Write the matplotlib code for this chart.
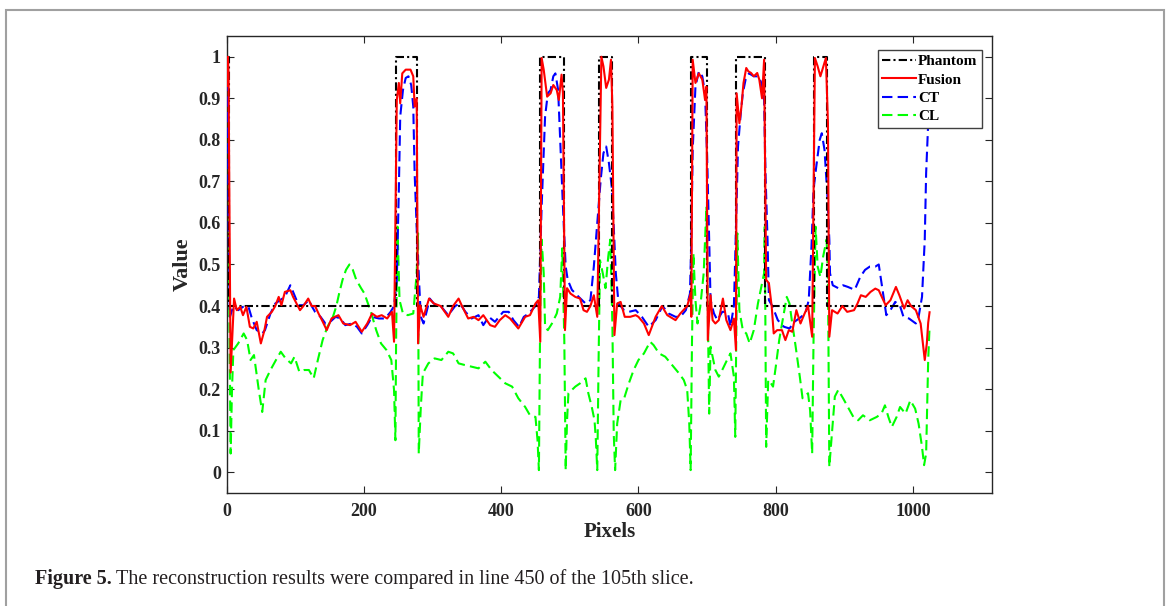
import matplotlib
matplotlib.use('Agg')
import matplotlib.pyplot as plt
from matplotlib.patches import Rectangle

# Line 450 of slice 105
phantom_x = [1, 3, 3, 247, 247, 277, 277, 457, 457, 491, 491, 542, 542, 561, 561,
             677, 677, 700, 700, 742, 742, 784, 784, 855, 855, 875, 875, 1024]
phantom_y = [1, 1, 0.4, 0.4, 1, 1, 0.4, 0.4, 1, 1, 0.4, 0.4, 1, 1, 0.4,
             0.4, 1, 1, 0.4, 0.4, 1, 1, 0.4, 0.4, 1, 1, 0.4, 0.4]

fusion_x = [1, 2, 3, 4, 6, 11, 15, 20, 24, 29, 34, 39, 44, 50, 55, 59, 66, 71, 76, 80,
            85, 93, 97, 107, 112, 119, 124, 129, 134, 139, 146, 153, 163, 170, 180, 188,
            197, 205, 212, 219, 226, 234, 241, 244, 248, 251, 253, 256, 261, 268, 272,
            274, 277, 279, 282, 287, 295, 302, 312, 323, 330, 338, 343, 352, 360, 367,
            374, 384, 391, 398, 406, 413, 425, 435, 442, 450, 454, 457, 459, 462, 467,
            472, 476, 481, 484, 488, 490, 493, 496, 501, 508, 515, 520, 525, 530, 535,
            540, 546, 549, 553, 557, 560, 562, 565, 569, 574, 580, 588, 596, 600, 608,
            615, 625, 634, 642, 654, 661, 671, 676, 677, 679, 683, 688, 693, 697, 699,
            701, 705, 708, 712, 717, 723, 728, 734, 739, 742, 743, 747, 750, 753, 757,
            760, 764, 768, 773, 776, 780, 783, 786, 790, 794, 797, 802, 809, 814, 819,
            824, 830, 836, 842, 847, 853, 857, 861, 865, 870, 873, 876, 878, 882, 890,
            897, 904, 914, 919, 924, 931, 938, 945, 950, 960, 967, 975, 980, 987, 992,
            997, 1004, 1011, 1017, 1020, 1022, 1024]
fusion_y = [0.93, 1.0, 0.96, 0.7, 0.24, 0.418, 0.39, 0.398, 0.378, 0.398, 0.35, 0.346,
            0.362, 0.31, 0.34, 0.374, 0.386, 0.4, 0.422, 0.402, 0.434, 0.438, 0.422, 0.39,
            0.4, 0.418, 0.4, 0.4, 0.382, 0.366, 0.342, 0.37, 0.378, 0.358, 0.354, 0.362,
            0.338, 0.358, 0.382, 0.374, 0.378, 0.37, 0.386, 0.314, 0.896, 0.937, 0.888,
            0.96, 0.969, 0.969, 0.953, 0.88, 0.9, 0.31, 0.402, 0.374, 0.418, 0.406, 0.4,
            0.374, 0.4, 0.418, 0.4, 0.37, 0.374, 0.366, 0.378, 0.354, 0.35, 0.366, 0.378,
            0.37, 0.346, 0.374, 0.378, 0.406, 0.414, 0.314, 0.997, 0.969, 0.904, 0.912,
            0.932, 0.92, 0.896, 0.957, 0.912, 0.342, 0.443, 0.43, 0.422, 0.418, 0.39,
            0.386, 0.4, 0.426, 0.374, 1.0, 0.977, 0.925, 0.945, 0.993, 0.88, 0.33, 0.406,
            0.41, 0.374, 0.374, 0.378, 0.374, 0.358, 0.33, 0.374, 0.4, 0.378, 0.366,
            0.382, 0.4, 0.43, 0.374, 0.993, 0.937, 0.96, 0.945, 0.896, 0.928, 0.318,
            0.426, 0.366, 0.358, 0.366, 0.418, 0.366, 0.342, 0.37, 0.294, 0.912, 0.84,
            0.88, 0.937, 0.973, 0.965, 0.961, 0.953, 0.961, 0.945, 0.9, 0.993, 0.463,
            0.455, 0.4, 0.334, 0.342, 0.342, 0.318, 0.342, 0.338, 0.39, 0.358, 0.382,
            0.4, 0.326, 0.997, 0.977, 0.953, 0.98, 0.997, 0.84, 0.326, 0.39, 0.382, 0.4,
            0.386, 0.39, 0.406, 0.426, 0.422, 0.434, 0.442, 0.438, 0.402, 0.414, 0.446,
            0.426, 0.394, 0.414, 0.4, 0.39, 0.358, 0.27, 0.31, 0.36, 0.385]

ct_x = [1, 2, 3, 5, 10, 17, 24, 32, 37, 44, 52, 56, 64, 71, 78, 85, 93, 98, 105, 112,
        120, 124, 129, 137, 144, 151, 159, 166, 173, 183, 190, 197, 205, 212, 222, 231,
        239, 244, 248, 251, 253, 257, 261, 265, 269, 272, 274, 278, 283, 287, 292, 296,
        302, 312, 323, 333, 340, 348, 357, 367, 374, 382, 391, 403, 411, 418, 426, 433,
        440, 450, 455, 459, 464, 468, 472, 476, 479, 483, 486, 490, 494, 497, 503, 513,
        523, 530, 535, 540, 545, 549, 553, 557, 561, 564, 567, 571, 579, 586, 596, 605,
        615, 625, 635, 644, 654, 661, 669, 675, 677, 679, 683, 688, 693, 697, 700, 703,
        705, 710, 715, 722, 730, 734, 739, 741, 745, 749, 752, 756, 761, 768, 775, 779,
        783, 785, 788, 790, 795, 803, 812, 820, 827, 834, 843, 848, 852, 855, 859, 864,
        867, 871, 875, 878, 879, 883, 891, 898, 905, 915, 923, 930, 937, 945, 950, 954,
        961, 967, 974, 981, 986, 994, 1004, 1008, 1013, 1017, 1019, 1022, 1024]
ct_y = [0.98, 0.9, 0.6, 0.374, 0.4, 0.39, 0.398, 0.398, 0.37, 0.342, 0.334, 0.342,
        0.382, 0.406, 0.414, 0.422, 0.45, 0.43, 0.402, 0.402, 0.414, 0.4, 0.386, 0.374,
        0.358, 0.362, 0.374, 0.37, 0.354, 0.358, 0.35, 0.334, 0.354, 0.374, 0.37, 0.37,
        0.386, 0.4, 0.463, 0.68, 0.856, 0.92, 0.949, 0.953, 0.932, 0.88, 0.72, 0.543,
        0.374, 0.358, 0.39, 0.418, 0.406, 0.4, 0.378, 0.4, 0.406, 0.386, 0.37, 0.378,
        0.354, 0.374, 0.362, 0.386, 0.386, 0.366, 0.35, 0.374, 0.382, 0.4, 0.422, 0.64,
        0.856, 0.912, 0.92, 0.953, 0.96, 0.92, 0.8, 0.64, 0.495, 0.463, 0.439, 0.422,
        0.406, 0.414, 0.495, 0.6, 0.704, 0.768, 0.784, 0.744, 0.688, 0.591, 0.479,
        0.406, 0.39, 0.386, 0.39, 0.374, 0.35, 0.366, 0.4, 0.382, 0.374, 0.374, 0.39,
        0.43, 0.56, 0.776, 0.928, 0.965, 0.953, 0.912, 0.76, 0.56, 0.414, 0.382, 0.366,
        0.386, 0.386, 0.35, 0.4, 0.52, 0.784, 0.864, 0.912, 0.945, 0.96, 0.953, 0.953,
        0.937, 0.896, 0.72, 0.56, 0.414, 0.4, 0.366, 0.35, 0.346, 0.362, 0.37, 0.382,
        0.414, 0.543, 0.68, 0.736, 0.8, 0.816, 0.776, 0.671, 0.56, 0.479, 0.45, 0.443,
        0.45, 0.446, 0.439, 0.47, 0.487, 0.495, 0.495, 0.5, 0.455, 0.378, 0.39, 0.41,
        0.4, 0.374, 0.37, 0.358, 0.374, 0.422, 0.56, 0.72, 0.84, 0.88]

cl_x = [1, 2, 4, 6, 8, 10, 17, 25, 30, 35, 40, 47, 52, 57, 64, 72, 79, 86, 94, 99, 106,
        113, 120, 127, 133, 140, 147, 155, 160, 164, 169, 174, 179, 184, 189, 196, 201,
        206, 211, 218, 225, 233, 240, 244, 246, 247, 249, 252, 257, 264, 272, 277, 279,
        280, 283, 286, 294, 303, 313, 323, 330, 338, 347, 357, 367, 377, 386, 396, 406,
        416, 425, 435, 442, 450, 453, 455, 457, 459, 462, 464, 468, 474, 481, 486, 489,
        492, 494, 496, 498, 503, 508, 515, 523, 527, 532, 536, 538, 540, 542, 544, 548,
        552, 556, 559, 562, 564, 566, 569, 574, 579, 586, 593, 600, 608, 617, 622, 630,
        639, 649, 659, 666, 671, 674, 676, 678, 680, 683, 686, 690, 695, 699, 701, 703,
        705, 708, 712, 717, 722, 729, 734, 739, 741, 744, 747, 752, 757, 762, 768, 774,
        779, 783, 784, 786, 789, 793, 796, 800, 805, 810, 816, 820, 824, 829, 835, 839,
        847, 850, 853, 855, 858, 861, 865, 869, 874, 876, 878, 881, 886, 891, 898, 905,
        913, 920, 927, 937, 947, 954, 959, 964, 969, 976, 981, 989, 996, 1003, 1008,
        1013, 1016, 1019, 1022, 1024]
cl_y = [1.0, 0.85, 0.4, 0.045, 0.2, 0.294, 0.31, 0.334, 0.318, 0.27, 0.282, 0.198,
        0.145, 0.222, 0.246, 0.27, 0.29, 0.274, 0.262, 0.278, 0.242, 0.246, 0.246, 0.226,
        0.27, 0.318, 0.35, 0.374, 0.4, 0.43, 0.463, 0.487, 0.5, 0.487, 0.463, 0.443,
        0.43, 0.406, 0.382, 0.342, 0.31, 0.294, 0.27, 0.198, 0.077, 0.318, 0.591, 0.414,
        0.382, 0.378, 0.382, 0.479, 0.575, 0.045, 0.157, 0.238, 0.262, 0.274, 0.27, 0.29,
        0.286, 0.262, 0.258, 0.254, 0.25, 0.266, 0.246, 0.23, 0.214, 0.206, 0.178, 0.157,
        0.137, 0.133, 0.077, 0.005, 0.4, 0.56, 0.479, 0.35, 0.342, 0.358, 0.382, 0.422,
        0.539, 0.318, 0.005, 0.125, 0.19, 0.198, 0.206, 0.214, 0.226, 0.19, 0.157, 0.125,
        0.077, 0.005, 0.278, 0.51, 0.479, 0.443, 0.519, 0.56, 0.358, 0.093, 0.005, 0.117,
        0.173, 0.177, 0.214, 0.246, 0.27, 0.286, 0.314, 0.306, 0.286, 0.278, 0.258,
        0.238, 0.222, 0.198, 0.117, 0.005, 0.318, 0.527, 0.414, 0.358, 0.398, 0.479,
        0.64, 0.4, 0.141, 0.302, 0.278, 0.246, 0.23, 0.246, 0.27, 0.286, 0.23, 0.085,
        0.575, 0.39, 0.342, 0.334, 0.31, 0.342, 0.406, 0.446, 0.479, 0.591, 0.061, 0.222,
        0.214, 0.206, 0.254, 0.318, 0.366, 0.422, 0.406, 0.358, 0.302, 0.23, 0.178, 0.19,
        0.149, 0.045, 0.318, 0.591, 0.495, 0.47, 0.519, 0.56, 0.479, 0.013, 0.077, 0.182,
        0.198, 0.178, 0.157, 0.133, 0.125, 0.137, 0.125, 0.133, 0.141, 0.161, 0.133,
        0.109, 0.133, 0.157, 0.141, 0.173, 0.153, 0.117, 0.061, 0.017, 0.045, 0.27, 0.35]

x_ticks = [0, 200, 400, 600, 800, 1000]
y_ticks = [0, 0.1, 0.2, 0.3, 0.4, 0.5, 0.6, 0.7, 0.8, 0.9, 1]
y_tick_labels = ['0', '0.1', '0.2', '0.3', '0.4', '0.5', '0.6', '0.7', '0.8', '0.9', '1']

plt.rcParams['font.family'] = ['Liberation Serif', 'DejaVu Serif']

fig = plt.figure(figsize=(11.7, 6.06), dpi=100)
ax = fig.add_axes([0.1936, 0.1865, 0.6543, 0.7541])

lw = 1.5
ax.plot(cl_x, cl_y, color='#00ff00', lw=lw, ls='--', dashes=(5, 2.5), label='CL', zorder=2)
ax.plot(ct_x, ct_y, color='#0000ff', lw=lw, ls='--', dashes=(5, 2.5), label='CT', zorder=3)
ax.plot(phantom_x, phantom_y, color='black', lw=lw, ls='-.', dashes=(4, 1.5, 1, 1.5),
        label='Phantom', zorder=4)
ax.plot(fusion_x, fusion_y, color='#ff0000', lw=lw, ls='-', label='Fusion', zorder=5)

ax.set_xlim(0, 1115)
ax.set_ylim(-0.05, 1.05)
ax.set_xticks(x_ticks)
ax.set_xticklabels([str(t) for t in x_ticks])
ax.set_yticks(y_ticks)
ax.set_yticklabels(y_tick_labels)
ax.tick_params(direction='in', top=True, right=True, length=5, width=0.8,
               labelsize=13, color='#262626')
ax.tick_params(axis='x', pad=7)
ax.tick_params(axis='y', pad=4)
for lab in ax.get_xticklabels() + ax.get_yticklabels():
    lab.set_fontweight('bold')
    lab.set_color('#262626')
for sp in ax.spines.values():
    sp.set_linewidth(1.0)
    sp.set_color('#262626')

ax.set_xlabel('Pixels', fontsize=15, fontweight='bold', color='#262626')
ax.set_ylabel('Value', fontsize=16, fontweight='bold', color='#262626')
ax.xaxis.set_label_coords(0.5, -0.064)
ax.yaxis.set_label_coords(-0.044, 0.5)

handles, labels = ax.get_legend_handles_labels()
order = [labels.index(n) for n in ['Phantom', 'Fusion', 'CT', 'CL']]
leg = ax.legend([handles[i] for i in order], [labels[i] for i in order],
                loc='upper right', bbox_to_anchor=(0.987, 0.969), borderaxespad=0,
                prop={'weight': 'bold', 'size': 11}, handlelength=2.2,
                handletextpad=0.15, borderpad=0.3, labelspacing=0.3,
                fancybox=False, framealpha=1, edgecolor='#404040')
leg.get_frame().set_linewidth(1.0)

# caption and the grey frame around the figure
fig.patches.append(Rectangle((6 / 1170, -0.05), 1158 / 1170, 1 - 10 / 606 + 0.05,
                             transform=fig.transFigure, fill=False,
                             edgecolor='#a0a0a0', lw=1.5))
t1 = fig.text(35 / 1170, 1 - 579 / 606, 'Figure 5.', fontsize=14.5, fontweight='bold',
              va='center', ha='left', color='#231f20')
r = fig.canvas.get_renderer()
bb = t1.get_window_extent(renderer=r)
fig.text((bb.x1 + 4) / 1170, 1 - 579 / 606,
         'The reconstruction results were compared in line 450 of the 105th slice.',
         fontsize=14.5, va='center', ha='left', color='#231f20')

fig.savefig('out.png', dpi=100)
